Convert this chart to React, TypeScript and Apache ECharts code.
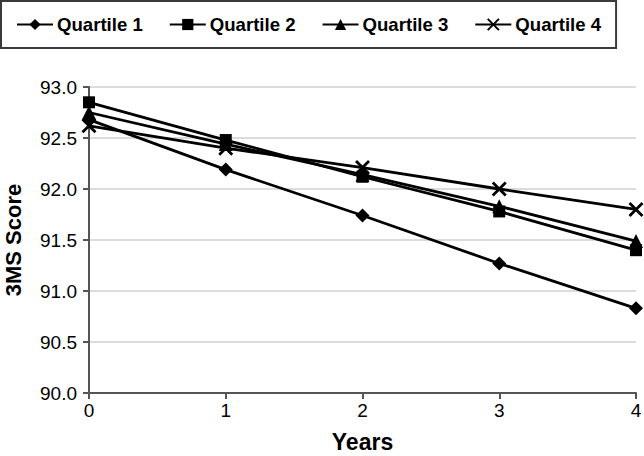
import React, { useEffect, useRef } from "react";
import * as echarts from "echarts";

const years = [0, 1, 2, 3, 4];
const quartile1 = [92.68, 92.19, 91.74, 91.27, 90.83];
const quartile2 = [92.85, 92.48, 92.12, 91.78, 91.4];
const quartile3 = [92.75, 92.44, 92.14, 91.83, 91.49];
const quartile4 = [92.62, 92.4, 92.21, 92.0, 91.8];
const seriesNames = ["Quartile 1", "Quartile 2", "Quartile 3", "Quartile 4"];

const FONT = "'Liberation Sans', Arial, sans-serif";
const CROSS = "path://M0,0L10,10M10,0L0,10";

export default function App() {
  const ref = useRef<HTMLDivElement>(null);
  useEffect(() => {
    if (!ref.current) return;
    const chart = echarts.init(ref.current, undefined, { renderer: "svg" });
    const datas = [quartile1, quartile2, quartile3, quartile4];
    const symbols = ["diamond", "rect", "triangle", CROSS];
    const sizes = [14, 12, 14, 13];
    chart.setOption({
      animation: false,
      backgroundColor: "#ffffff",
      textStyle: { fontFamily: FONT },
      legend: {
        left: 1,
        top: 1,
        padding: [14, 15, 14, 15],
        borderColor: "#3a3a3a",
        borderWidth: 2,
        itemGap: 26,
        itemWidth: 36,
        itemHeight: 14,
        textStyle: { fontFamily: FONT, fontWeight: "bold", fontSize: 18.6, color: "#000", padding: [0, 0, 0, -1] },
        data: seriesNames,
      },
      grid: { left: 89, right: 8, top: 87, bottom: 63, containLabel: false, outerBoundsMode: "none" },
      xAxis: {
        type: "value",
        min: 0,
        max: 4,
        interval: 1,
        name: "Years",
        nameLocation: "middle",
        nameGap: 37,
        nameTextStyle: { fontFamily: FONT, fontWeight: "bold", fontSize: 23, color: "#000" },
        axisLine: { lineStyle: { color: "#555", width: 2 } },
        axisTick: { show: true, length: 6, lineStyle: { color: "#555", width: 2 } },
        axisLabel: { fontFamily: FONT, fontSize: 19, color: "#000", margin: 8 },
        splitLine: { show: false },
      },
      yAxis: {
        type: "value",
        min: 90,
        max: 93,
        interval: 0.5,
        name: "3MS Score",
        nameLocation: "middle",
        nameGap: 65,
        nameTextStyle: { fontFamily: FONT, fontWeight: "bold", fontSize: 22, color: "#000" },
        axisLine: { show: true, lineStyle: { color: "#555", width: 2 } },
        axisTick: { show: true, length: 6, lineStyle: { color: "#555", width: 2 } },
        axisLabel: {
          fontFamily: FONT,
          fontSize: 19,
          color: "#000",
          margin: 12,
          formatter: (v: number) => v.toFixed(1),
        },
        splitLine: { show: true, lineStyle: { color: "#dcdcdc", width: 2 } },
      },
      series: seriesNames.map((name, i) => ({
        name,
        type: "line",
        data: years.map((y, j) => [y, datas[i][j]]),
        symbol: symbols[i],
        symbolSize: sizes[i],
        showAllSymbol: true,
        lineStyle: { color: "#000", width: 2.8 },
        itemStyle:
          i === 3
            ? { color: "rgba(0,0,0,0)", borderColor: "#000", borderWidth: 2.8 }
            : { color: "#000", borderColor: "#000", borderWidth: 0 },
        emphasis: { disabled: true },
        z: 2 + i,
      })),
    });
    return () => chart.dispose();
  }, []);
  return <div ref={ref} style={{ width: 644, height: 456, position: "absolute", left: 0, top: 0 }} />;
}
